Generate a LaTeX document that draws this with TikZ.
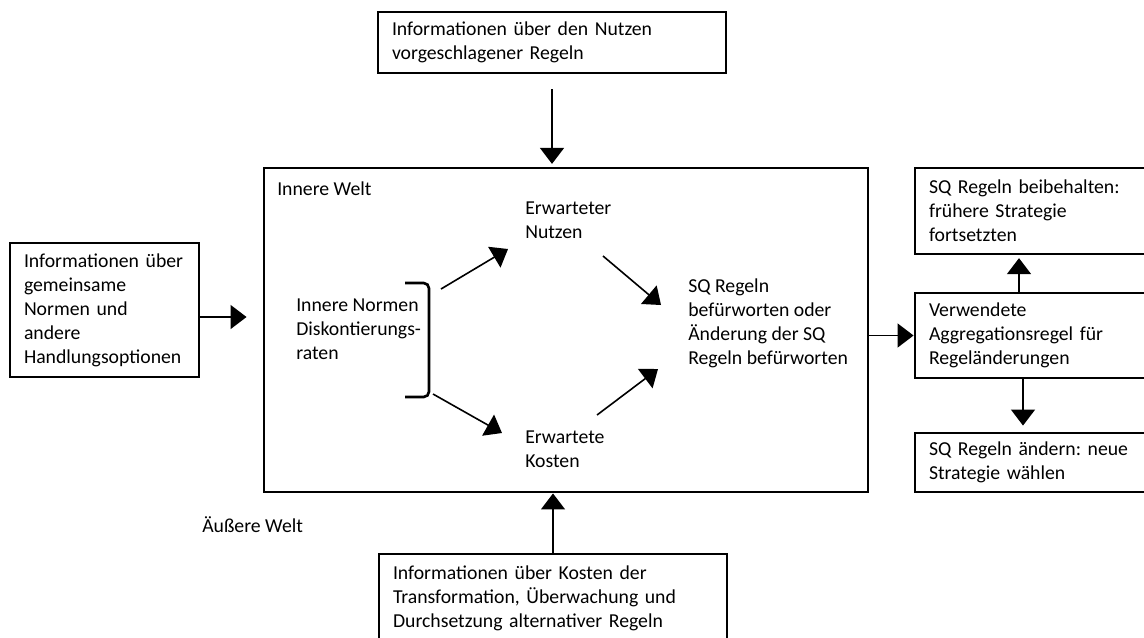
\documentclass[tikz,border=0pt]{standalone}
\usepackage{fontspec}
\setmainfont{Carlito}
\usetikzlibrary{arrows.meta,calc}
\frenchspacing
\newcommand\dgfont{\fontsize{14.8pt}{18pt}\selectfont\frenchspacing\spaceskip=\fontdimen2\font\relax\xspaceskip=\fontdimen2\font\relax}
\begin{document}
\begin{tikzpicture}[x=0.75pt,y=-0.75pt,
  box/.style={draw, line width=2.2pt, rectangle, align=left, inner xsep=10.5pt, inner ysep=0pt, font=\dgfont},
  lbl/.style={inner sep=0pt, align=left, anchor=west, font=\dgfont},
  arr/.style={line width=1.2pt, -{Triangle[length=12pt,width=18pt]}},
  bracketline/.style={line width=2pt, rounded corners=4pt}]
\useasboundingbox (0,0) rectangle (1144,637);
\clip (0,0) rectangle (1144,637);

% outer boxes
\node[box, text width=240pt, minimum height=45.75pt] (top) at (552,42.5)
  {Informationen über den Nutzen\\vorgeschlagener Regeln};
\node[box, text width=120.75pt, minimum height=100.5pt] (left) at (104.5,310)
  {Informationen über\\gemeinsame\\Normen und\\andere\\Handlungsoptionen};
\node[draw, line width=2.2pt, rectangle, minimum width=453pt, minimum height=243pt] (main) at (566,330) {};
\node[box, text width=159pt, minimum height=64.5pt] (rtop) at (1035,211)
  {SQ Regeln beibehalten:\\frühere Strategie\\fortsetzten};
\node[box, text width=159pt, minimum height=63.75pt] (rmid) at (1035,335.5)
  {Verwendete\\Aggregationsregel für\\Regeländerungen};
\node[box, text width=159pt, minimum height=44.25pt] (rbot) at (1035,462.5)
  {SQ Regeln ändern: neue\\Strategie wählen};
\node[box, text width=240pt, minimum height=66pt] (bot) at (553,598)
  {Informationen über Kosten der\\Transformation, Überwachung und\\Durchsetzung alternativer Regeln};

% labels
\node[lbl] (inner) at (277,189) {Innere Welt};
\node[lbl] (outer) at (202,525) {Äußere Welt};
\node[lbl] (norms) at (296,329) {Innere Normen\\Diskontierungs-\\raten};
\node[lbl] (nutzen) at (525,220) {Erwarteter\\Nutzen};
\node[lbl] (kosten) at (525,449) {Erwartete\\Kosten};
\node[lbl] (sq) at (688,323) {SQ Regeln\\befürworten oder\\Änderung der SQ\\Regeln befürworten};

% bracket
\draw[bracketline] (405,283) -- (429,283) -- (429,397) -- (405,397);

% inner arrow end points
\coordinate (c1s) at (441,289); \coordinate (c1e) at (508,249);
\coordinate (c2s) at (433,394); \coordinate (c2e) at (502,433);
\coordinate (c3s) at (603,256); \coordinate (c3e) at (661,305);
\coordinate (c4s) at (597,415); \coordinate (c4e) at (658,369);
\draw[arr] (c1s) -- (c1e);
\draw[arr] (c2s) -- (c2e);
\draw[arr] (c3s) -- (c3e);
\draw[arr] (c4s) -- (c4e);

% connectors
\draw[arr, shorten <=11.25pt, shorten >=2pt] (top.south) -- (top.south |- main.north);
\draw[arr, shorten >=12pt] ([yshift=-5.25pt]left.east) -- ([yshift=-5.25pt]left.east -| main.west);
\draw[arr] (bot.north) -- (bot.north |- main.south);
\draw[arr] (main.east |- rmid.west) -- (rmid.west);
\draw[arr, shorten >=2pt] ([xshift=-12pt]rmid.north) -- ([xshift=-12pt]rmid.north |- rtop.south);
\draw[arr, shorten >=4.5pt] ([xshift=-9pt]rmid.south) -- ([xshift=-9pt]rmid.south |- rbot.north);
\end{tikzpicture}
\end{document}
